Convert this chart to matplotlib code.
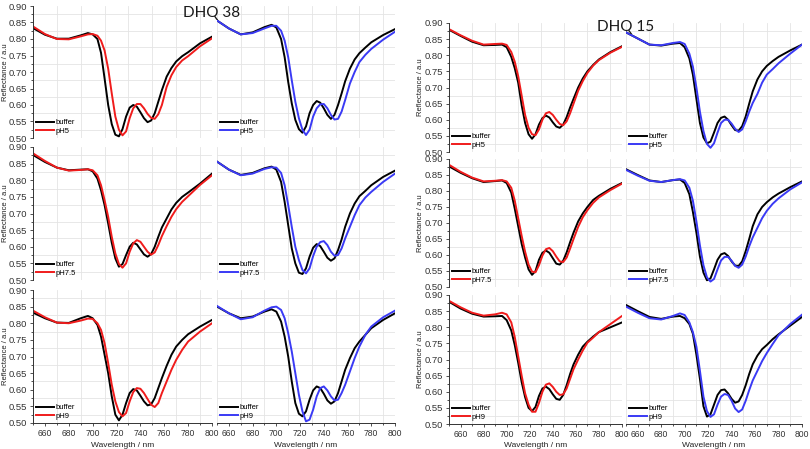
import matplotlib
matplotlib.use('Agg')
import matplotlib.pyplot as plt
from matplotlib.ticker import MultipleLocator, FormatStrFormatter

plt.rcParams['font.family'] = ['Liberation Sans', 'DejaVu Sans']

# 波长采样点 (nm)
wavelength = [650, 660, 670, 680, 690, 696, 700,
              704, 707, 710, 713, 716, 719, 722, 725, 728, 731, 734, 737, 740,
              743, 746, 749, 752, 755, 758,
              762, 766, 770, 775, 780, 790, 800]

# DHQ 38 -------------------------------------------------------------
dhq38_buf_pH5_a = [.833, .813, .801, .801, .811, .818, .814,
                   .800, .758, .680, .600, .542, .510, .505, .527, .565, .592, .600, .595, .578,
                   .560, .548, .553, .575, .610, .645,
                   .686, .712, .732, .748, .760, .787, .807]
dhq38_pH5_a = [.838, .815, .800, .799, .808, .814, .815,
               .810, .795, .765, .710, .635, .565, .525, .508, .520, .560, .590, .603, .603,
               .590, .573, .561, .558, .572, .600,
               .655, .690, .715, .735, .748, .778, .802]
dhq38_buf_pH5_b = [.856, .832, .814, .820, .836, .843, .835,
                   .800, .745, .670, .605, .555, .527, .516, .535, .575, .600, .612, .607, .590,
                   .570, .558, .570, .600, .635, .672,
                   .710, .738, .757, .774, .790, .812, .830]
dhq38_pH5_b = [.856, .832, .814, .818, .832, .840, .840,
               .825, .795, .745, .675, .610, .560, .525, .509, .525, .565, .590, .602, .603,
               .590, .570, .556, .558, .580, .615,
               .665, .700, .730, .752, .770, .798, .822]

dhq38_buf_pH75_a = [.876, .855, .838, .830, .832, .833, .827,
                    .805, .770, .725, .670, .612, .565, .540, .548, .575, .600, .612, .607, .592,
                    .577, .570, .578, .600, .630, .658,
                    .685, .712, .732, .750, .763, .790, .820]
dhq38_pH75_a = [.881, .858, .838, .829, .831, .833, .830,
                .815, .785, .740, .690, .630, .580, .548, .537, .550, .585, .610, .620, .615,
                .600, .585, .576, .583, .605, .632,
                .662, .690, .713, .735, .752, .786, .815]
dhq38_buf_pH75_b = [.856, .832, .816, .822, .836, .841, .832,
                    .795, .735, .665, .595, .550, .522, .518, .535, .570, .597, .608, .602, .585,
                    .567, .558, .565, .590, .622, .660,
                    .700, .730, .752, .768, .785, .810, .829]
dhq38_pH75_b = [.856, .832, .815, .820, .834, .839, .838,
                .822, .785, .725, .660, .600, .560, .530, .520, .535, .572, .600, .614, .617,
                .605, .585, .573, .575, .595, .625,
                .660, .695, .725, .748, .765, .795, .820]

dhq38_buf_pH9_a = [.832, .815, .802, .801, .815, .822, .815,
                   .795, .760, .705, .650, .580, .525, .508, .525, .560, .590, .602, .598, .582,
                   .565, .553, .556, .575, .605, .635,
                   .672, .705, .730, .750, .767, .790, .810]
dhq38_pH9_a = [.838, .818, .802, .800, .808, .814, .813,
               .800, .780, .740, .680, .615, .565, .533, .520, .530, .565, .593, .605, .603,
               .590, .572, .555, .548, .560, .590,
               .625, .660, .690, .720, .745, .775, .800]
dhq38_buf_pH9_b = [.850, .830, .815, .820, .835, .842, .835,
                   .805, .760, .700, .625, .560, .528, .520, .535, .570, .598, .610, .605, .588,
                   .568, .558, .565, .590, .625, .660,
                   .695, .725, .745, .765, .785, .810, .830]
dhq38_pH9_b = [.852, .830, .812, .818, .838, .848, .850,
               .840, .815, .770, .715, .650, .585, .535, .505, .510, .540, .580, .605, .610,
               .598, .580, .568, .570, .590, .615,
               .655, .695, .730, .765, .790, .818, .838]

# DHQ 15 -------------------------------------------------------------
dhq15_buf_pH5_a = [.879, .860, .842, .831, .832, .833, .825,
                   .795, .760, .715, .645, .590, .555, .541, .555, .585, .605, .613, .607, .592,
                   .579, .575, .585, .608, .638, .665,
                   .700, .728, .750, .770, .787, .810, .828]
dhq15_pH5_a = [.881, .862, .845, .833, .835, .836, .832,
               .810, .780, .735, .675, .615, .575, .555, .552, .570, .600, .620, .624, .615,
               .600, .587, .583, .595, .620, .650,
               .690, .720, .745, .768, .785, .808, .826]
dhq15_buf_pH5_b = [.871, .852, .833, .830, .836, .838, .825,
                   .790, .740, .665, .590, .545, .527, .532, .560, .590, .606, .610, .600, .583,
                   .568, .566, .580, .610, .650, .688,
                   .725, .750, .767, .782, .795, .815, .833]
dhq15_pH5_b = [.871, .852, .833, .831, .838, .841, .835,
               .805, .765, .700, .625, .565, .525, .513, .527, .560, .590, .600, .600, .588,
               .572, .562, .570, .595, .625, .652,
               .680, .715, .740, .757, .775, .805, .833]

dhq15_buf_pH75_a = [.877, .857, .840, .828, .831, .833, .825,
                    .795, .745, .690, .635, .592, .555, .538, .550, .585, .607, .614, .607, .590,
                    .573, .570, .582, .608, .640, .670,
                    .705, .730, .750, .772, .785, .807, .825]
dhq15_pH75_a = [.882, .860, .842, .830, .832, .834, .830,
                .810, .770, .715, .660, .610, .570, .548, .546, .568, .598, .618, .622, .612,
                .595, .580, .578, .592, .620, .650,
                .688, .718, .740, .763, .780, .803, .823]
dhq15_buf_pH75_b = [.868, .850, .833, .828, .834, .836, .825,
                    .790, .735, .670, .595, .545, .521, .527, .555, .585, .602, .606, .597, .580,
                    .567, .566, .580, .612, .650, .690,
                    .727, .750, .765, .780, .792, .812, .830]
dhq15_pH75_b = [.866, .848, .832, .828, .834, .837, .833,
                .810, .770, .705, .630, .568, .530, .517, .525, .555, .583, .594, .594, .582,
                .566, .560, .570, .595, .627, .655,
                .685, .715, .738, .760, .777, .805, .827]

dhq15_buf_pH9_a = [.879, .858, .842, .833, .834, .835, .822,
                   .790, .745, .690, .630, .583, .550, .540, .553, .587, .610, .616, .608, .592,
                   .578, .575, .590, .620, .655, .685,
                   .715, .740, .755, .771, .785, .800, .815]
dhq15_pH9_a = [.882, .862, .845, .836, .840, .845, .840,
               .815, .770, .710, .650, .595, .560, .538, .538, .565, .600, .622, .626, .615,
               .600, .590, .592, .610, .640, .670,
               .700, .728, .752, .768, .785, .810, .835]
dhq15_buf_pH9_b = [.869, .850, .832, .826, .833, .835, .828,
                   .810, .780, .715, .640, .555, .523, .530, .560, .590, .605, .607, .595, .578,
                   .566, .570, .590, .620, .655, .685,
                   .712, .732, .745, .763, .778, .805, .832]
dhq15_pH9_b = [.864, .845, .828, .824, .835, .843, .838,
               .815, .785, .740, .665, .585, .540, .522, .530, .560, .585, .593, .590, .572,
               .548, .537, .545, .572, .605, .635,
               .665, .695, .720, .748, .775, .810, .839]

ph_labels = ['pH5', 'pH7.5', 'pH9']
titles = ['DHQ 38', 'DHQ 15']

RED = '#f01c1c'
BLUE = '#3a3af5'
TXT = '#222222'

W, H = 810, 449
fig = plt.figure(figsize=(W / 100, H / 100), dpi=100)

# 各面板的像素框 (左, 右) / (上, 下)
groups = [
    dict(cols=[(33, 212), (217, 395)], rows=[(6, 138), (147, 280), (290, 423)],
         ylab_x=-0.135,
         data=[[(dhq38_buf_pH5_a, dhq38_pH5_a), (dhq38_buf_pH5_b, dhq38_pH5_b)],
               [(dhq38_buf_pH75_a, dhq38_pH75_a), (dhq38_buf_pH75_b, dhq38_pH75_b)],
               [(dhq38_buf_pH9_a, dhq38_pH9_a), (dhq38_buf_pH9_b, dhq38_pH9_b)]]),
    dict(cols=[(449, 622), (626, 802)], rows=[(23, 152), (159, 287), (295, 424)],
         ylab_x=-0.145,
         data=[[(dhq15_buf_pH5_a, dhq15_pH5_a), (dhq15_buf_pH5_b, dhq15_pH5_b)],
               [(dhq15_buf_pH75_a, dhq15_pH75_a), (dhq15_buf_pH75_b, dhq15_pH75_b)],
               [(dhq15_buf_pH9_a, dhq15_pH9_a), (dhq15_buf_pH9_b, dhq15_pH9_b)]]),
]

for g in groups:
    for r, (yt, yb) in enumerate(g['rows']):
        for c, (x0, x1) in enumerate(g['cols']):
            ax = fig.add_axes([x0 / W, 1 - yb / H, (x1 - x0) / W, (yb - yt) / H])
            ax.patch.set_alpha(0)
            buf, sample = g['data'][r][c]
            col = RED if c == 0 else BLUE
            ax.plot(wavelength, buf, color='black', lw=1.4, label='buffer')
            ax.plot(wavelength, sample, color=col, lw=1.4, label=ph_labels[r])
            ax.set_xlim(650, 800)
            ax.set_ylim(0.50, 0.90)
            ax.xaxis.set_major_locator(MultipleLocator(20))
            ax.xaxis.set_minor_locator(MultipleLocator(10))
            ax.yaxis.set_major_locator(MultipleLocator(0.05))
            ax.yaxis.set_minor_locator(MultipleLocator(0.025))
            ax.yaxis.set_major_formatter(FormatStrFormatter('%.2f'))
            ax.grid(which='minor', color='#e4e4e4', lw=0.6)
            ax.set_axisbelow(True)
            for s in ['top', 'right']:
                ax.spines[s].set_visible(False)
            ax.tick_params(which='both', direction='out', width=0.6, colors='#333333',
                           labelsize=6.8, pad=1.5)
            ax.tick_params(which='major', length=2.5)
            ax.tick_params(which='minor', length=1.5)
            if c == 0:
                ax.set_ylabel('Reflectance / a.u', fontsize=5.5, color=TXT)
                ax.yaxis.set_label_coords(g['ylab_x'], 0.5)
            else:
                ax.spines['left'].set_visible(False)
                ax.tick_params(axis='y', which='both', left=False, labelleft=False)
            if r < 2:
                ax.spines['bottom'].set_visible(False)
                ax.tick_params(axis='x', which='both', bottom=False, labelbottom=False)
            else:
                ax.tick_params(axis='x', labelsize=6.2)
                ax.set_xlabel('Wavelength / nm', fontsize=6, color=TXT)
                ax.xaxis.set_label_coords(0.5, -0.14)
            for s in ['left', 'bottom']:
                ax.spines[s].set_linewidth(0.7)
                ax.spines[s].set_color('#333333')
            ax.legend(loc='lower left', frameon=False, fontsize=5.5, handlelength=2.3,
                      handletextpad=0.2, labelspacing=0.15, borderaxespad=0.2,
                      borderpad=0.2)

fig.text(212 / W, 1 - 13 / H, titles[0], ha='center', va='center', fontsize=11,
         family=['Lato', 'DejaVu Sans'], color='#1a1a1a')
fig.text(626 / W, 1 - 27.5 / H, titles[1], ha='center', va='center', fontsize=11,
         family=['Lato', 'DejaVu Sans'], color='#1a1a1a')

fig.savefig('out.png', dpi=100)
